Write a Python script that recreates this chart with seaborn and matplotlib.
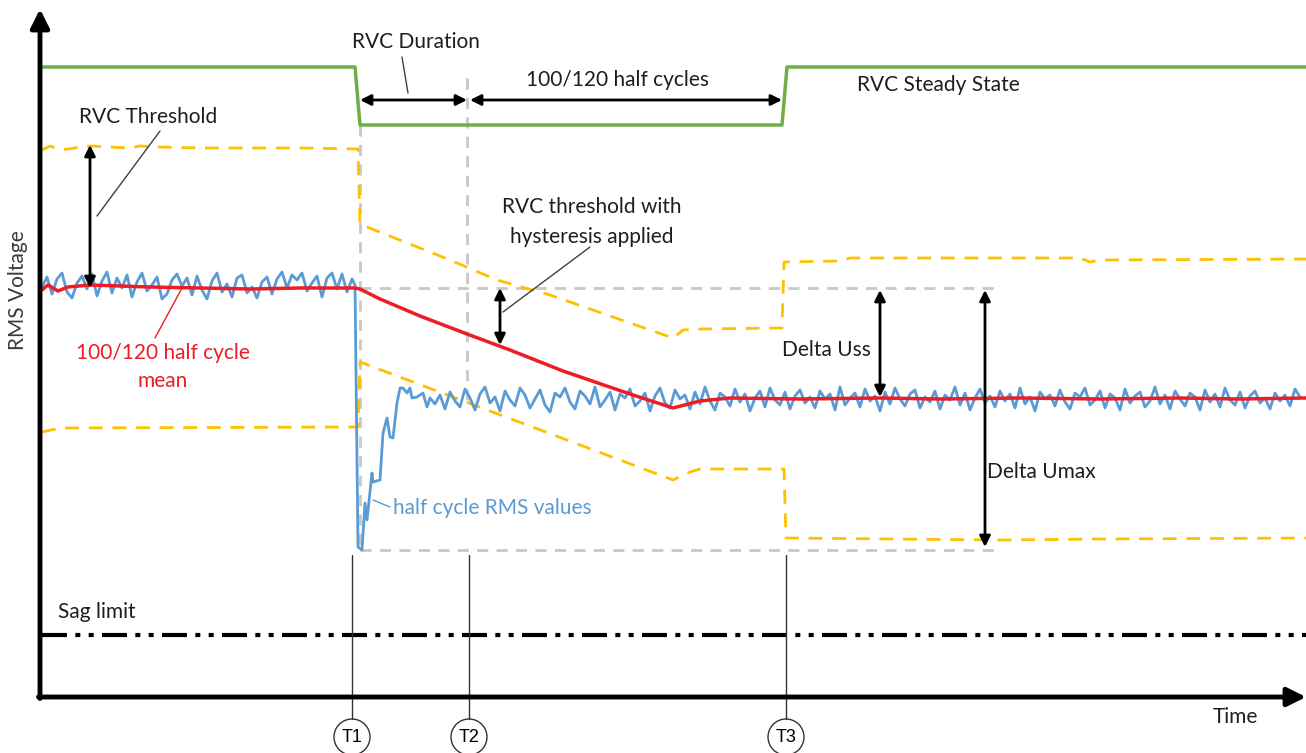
import numpy as np
import seaborn as sns
import matplotlib.pyplot as plt
from matplotlib.patches import Circle

# time / voltage values (arbitrary units)
pre_rms = [410, 420, 403, 418, 424, 405, 399, 414, 421, 408, 423, 401, 416, 425, 404, 419,
           409, 422, 400, 415, 424, 406, 412, 420, 398, 403, 417, 423, 411, 419, 402, 421,
           407, 398, 416, 424, 405, 413, 400, 419, 422, 404, 410, 399, 415, 420, 403, 418,
           425, 409, 422, 417, 424, 406, 414, 421, 400, 419, 424, 408, 423, 405, 418]
dip_t = [315, 318, 322, 325, 327, 332, 333, 340, 343, 347, 350, 353, 357, 360, 363, 367, 370, 372, 377, 383, 387, 390]
dip_rms = [412, 150, 147, 194, 177, 224, 215, 217, 264, 279, 260, 259, 294, 309, 309, 304, 309, 299, 300, 304, 290, 299]
post_rms = [293, 302, 288, 305, 296, 290, 308, 299, 287, 303, 310, 294, 300, 286, 306, 297,
            291, 309, 302, 289, 298, 307, 292, 285, 304, 300, 309, 295, 288, 306, 301, 293,
            310, 290, 297, 305, 287, 303, 299, 308, 291, 296, 304, 286, 301, 309, 294, 289,
            307, 298, 302, 288, 305, 293, 310, 296, 287, 304, 300, 291, 308, 295, 303, 286,
            299, 306, 290, 309, 297, 292, 305, 288, 301, 307, 294, 300, 289, 306, 298, 303,
            287, 310, 292, 299, 304, 290, 308, 296, 301, 286, 305, 293, 309, 298, 291, 303,
            307, 289, 300, 295, 306, 288, 302, 297, 310, 292, 304, 287, 299, 308, 294, 301,
            290, 306, 296, 303, 289, 309, 293, 300, 286, 305, 298, 302, 291, 307, 295, 288,
            304, 300, 309, 292, 297, 306, 289, 303, 299, 287, 308, 294, 301, 305, 290, 296,
            310, 293, 302, 288, 306, 298, 291, 304, 300, 287, 307, 295, 303, 290, 309, 297,
            292, 305, 289, 301, 306, 294, 299, 288, 304, 296, 302, 291, 308, 300]

mean_t = [2, 8, 18, 28, 50, 110, 160, 210, 260, 315, 320, 340, 380, 427, 470, 523, 590, 633, 660, 690,
          760, 840, 900, 980, 1060, 1140, 1200, 1266]
mean_v = [407, 412, 406, 410, 412, 410, 409, 408, 409, 409, 408, 398, 381, 363, 347, 326, 303, 289, 296, 299,
          298, 299, 298, 299, 298, 299, 298, 299]

upper_t = [2, 10, 20, 35, 50, 70, 90, 100, 120, 160, 260, 318, 320, 327, 410, 457, 510, 633, 643, 660,
           742, 744, 800, 810, 1040, 1050, 1060, 1266]
upper_v = [547, 551, 547, 549, 551, 550, 549, 551, 550, 549, 549, 548, 472, 470, 437, 417, 402, 359, 367, 368,
           369, 435, 436, 439, 439, 435, 437, 438]
lower_t = [2, 20, 318, 320, 633, 650, 660, 744, 746, 960, 1060, 1266]
lower_v = [265, 269, 270, 335, 217, 225, 228, 228, 159, 157, 158, 159]

state_t = [2, 315, 320, 742, 747, 1266]
state_v = [630, 630, 572, 572, 630, 630]

sag_level = 62
t_marks = [312, 429, 746]
t_names = ["T1", "T2", "T3"]

pre_t = np.arange(2, 2 + 5 * len(pre_rms), 5)
post_t = np.arange(395, 395 + 5 * len(post_rms), 5)
rms_t = np.concatenate([pre_t, dip_t, post_t])
rms_v = np.concatenate([pre_rms, dip_rms, post_rms])

sns.set_theme(style="white")
plt.rcParams['font.family'] = ['Lato', 'DejaVu Sans']

fig = plt.figure(figsize=(13.06, 7.53), dpi=100)
ax = fig.add_axes([0, 0, 1, 1])
ax.set_xlim(-40, 1266)
ax.set_ylim(-56, 697)
ax.axis('off')

blue = '#5B9BD5'
red = '#EE1C25'
orange = '#FFC000'
green = '#70AD47'
grey = '#C8C8C8'
txt = '#1E1E1E'

# guide lines
ax.plot([320, 320], [572, 147], color=grey, lw=2, ls=(0, (4, 3)))
ax.plot([427, 427], [619, 297], color=grey, lw=2, ls=(0, (4, 3)))
ax.plot([320, 955], [409, 409], color=grey, lw=2, ls=(0, (4, 3)))
ax.plot([320, 955], [147, 147], color=grey, lw=2, ls=(0, (4, 3)))

# series
sns.lineplot(x=state_t, y=state_v, ax=ax, color=green, lw=2.5, sort=False, estimator=None)
sns.lineplot(x=upper_t, y=upper_v, ax=ax, color=orange, lw=2, ls=(0, (5, 3.5)), sort=False, estimator=None)
sns.lineplot(x=lower_t, y=lower_v, ax=ax, color=orange, lw=2, ls=(0, (5, 3.5)), sort=False, estimator=None)
sns.lineplot(x=rms_t, y=rms_v, ax=ax, color=blue, lw=2, sort=False, estimator=None)
sns.lineplot(x=mean_t, y=mean_v, ax=ax, color=red, lw=2.5, sort=False, estimator=None)
ax.plot([2, 1266], [sag_level, sag_level], color='black', lw=3,
        ls=(0, (6, 2, 1.2, 2, 1.2, 2)))

# axes arrows
ax.annotate("", xy=(0, 688), xytext=(0, -1.5),
            arrowprops=dict(arrowstyle='-|>', lw=3.5, color='black', mutation_scale=28, shrinkA=0, shrinkB=0))
ax.annotate("", xy=(1266, 0), xytext=(-1.5, 0),
            arrowprops=dict(arrowstyle='-|>', lw=3.5, color='black', mutation_scale=28, shrinkA=0, shrinkB=0))

# double arrows
for a, b in [((320, 597), (427, 597)), ((430, 597), (742, 597)), ((50, 552), (50, 409)),
             ((460, 409), (460, 352)), ((840, 407), (840, 300)), ((945, 407), (945, 150))]:
    ax.annotate("", xy=b, xytext=a,
                arrowprops=dict(arrowstyle='<|-|>', lw=2, color='black', mutation_scale=16, shrinkA=0, shrinkB=0))

# leader lines
ax.plot([362, 368], [640, 604], color='#404040', lw=1)
ax.plot([120, 57], [566, 481], color='#404040', lw=1)
ax.plot([550, 463], [450, 385], color='#404040', lw=1)
ax.plot([142, 115], [409, 359], color=red, lw=1)
ax.plot([333, 350], [197, 190], color=blue, lw=1)

# time markers
for t, name in zip(t_marks, t_names):
    ax.plot([t, t], [142, -22], color='#333333', lw=1)
    ax.add_patch(Circle((t, -40), 18, fill=True, facecolor='white', edgecolor='#333333', lw=1))
    ax.text(t, -40, name, ha='center', va='center', fontsize=13, color='black', family='Liberation Sans')

fs = 15
ax.text(376, 655, "RVC Duration", ha='center', va='center', fontsize=fs, color=txt)
ax.text(578, 617, "100/120 half cycles", ha='center', va='center', fontsize=fs, color=txt)
ax.text(898, 612, "RVC Steady State", ha='center', va='center', fontsize=fs, color=txt)
ax.text(108, 580, "RVC Threshold", ha='center', va='center', fontsize=fs, color=txt)
ax.text(552, 490, "RVC threshold with", ha='center', va='center', fontsize=fs, color=txt)
ax.text(552, 460, "hysteresis applied", ha='center', va='center', fontsize=fs, color=txt)
ax.text(123, 344, "100/120 half cycle", ha='center', va='center', fontsize=fs, color=red)
ax.text(123, 316, "mean", ha='center', va='center', fontsize=fs, color=red)
ax.text(353, 189, "half cycle RMS values", ha='left', va='center', fontsize=fs, color=blue)
ax.text(742, 347, "Delta Uss", ha='left', va='center', fontsize=fs, color=txt)
ax.text(947, 225, "Delta Umax", ha='left', va='center', fontsize=fs, color=txt)
ax.text(18, 85, "Sag limit", ha='left', va='center', fontsize=fs, color=txt)
ax.text(1195, -20, "Time", ha='center', va='center', fontsize=fs, color=txt)
ax.text(-22, 407, "RMS Voltage", ha='center', va='center', rotation=90, fontsize=fs, color='#3A3A3A')

fig.savefig("out.png", dpi=100)
